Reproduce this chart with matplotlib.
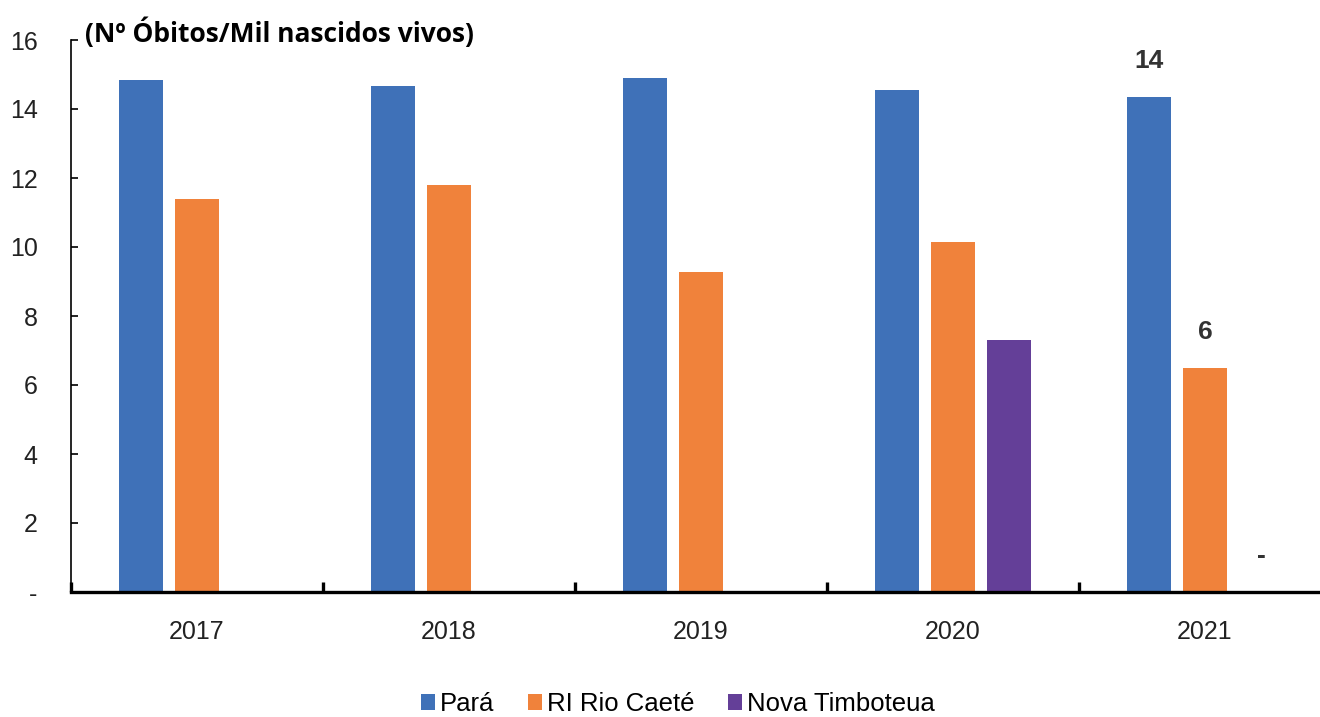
"""
Mortalidade infantil - Pará, RI Rio Caeté e Nova Timboteua, 2017-2021.
"""
import numpy as np
import matplotlib
matplotlib.use('Agg')
import matplotlib.pyplot as plt
from matplotlib import font_manager

years = ['2017', '2018', '2019', '2020', '2021']
para = [14.84, 14.67, 14.90, 14.55, 14.35]
rio_caete = [11.39, 11.80, 9.28, 10.14, 6.49]
nova_timboteua = [np.nan, np.nan, np.nan, 7.30, 0.0]
series_names = ['Pará', 'RI Rio Caeté', 'Nova Timboteua']
colors = ['#3F71B8', '#F0823B', '#643F98']
# labels shown above the 2021 bars
labels_2021 = ['14', '6', '-']

installed = {f.name for f in font_manager.fontManager.ttflist}
narrow = 'Liberation Sans Narrow' if 'Liberation Sans Narrow' in installed else 'Liberation Sans'

fig = plt.figure(figsize=(13.2, 7.17), dpi=100)
ax = fig.add_axes([71/1320, 1 - 592/717, 1 - 71/1320, (592 - 40)/717])

x = np.arange(len(years))
width = 0.175
step = 0.224
all_series = [para, rio_caete, nova_timboteua]
for i, (vals, name, col) in enumerate(zip(all_series, series_names, colors)):
    ax.bar(x + (i - 1)*step, vals, width, color=col, label=name)
    ax.annotate(labels_2021[i], (x[-1] + (i - 1)*step, np.nan_to_num(vals[-1])),
                xytext=(0, 26), textcoords='offset points', ha='center', va='center',
                fontsize=19, fontweight='bold', color='#333333', family='Liberation Sans')

ax.set_xlim(-0.5, (1320 - 71)/252 - 0.5)
ax.set_ylim(0, 16)
ax.set_yticks(np.arange(0, 17, 2))
ax.set_yticklabels(['-'] + [str(v) for v in range(2, 17, 2)])
ax.set_xticks(x)
ax.set_xticklabels(years)
ax.set_xticks(np.arange(-0.5, 4, 1.0), minor=True)

for s in ['top', 'right']:
    ax.spines[s].set_visible(False)
ax.spines['left'].set_linewidth(1.2)
ax.spines['bottom'].set_linewidth(2.4)

ax.tick_params(axis='y', direction='in', length=5, width=1.2, pad=24,
               labelsize=18, labelfontfamily=narrow, labelcolor='#222222')
ax.tick_params(axis='x', which='major', length=0, pad=20,
               labelsize=18, labelfontfamily=narrow, labelcolor='#222222')
ax.tick_params(axis='x', which='minor', direction='in', length=7, width=2.4)

fig.text(85/1320, 1 - 33/717, '(Nº Óbitos/Mil nascidos vivos)', ha='left', va='center',
         fontsize=19, fontweight='bold', family=['Open Sans', 'DejaVu Sans'])

fig.legend(loc='center', bbox_to_anchor=(678/1320, 1 - 704/717), ncol=3, frameon=False,
           handlelength=0.55, handleheight=0.55, handletextpad=0.2, columnspacing=1.3,
           prop={'family': narrow, 'size': 18.5})

fig.savefig('out.png', dpi=100)
